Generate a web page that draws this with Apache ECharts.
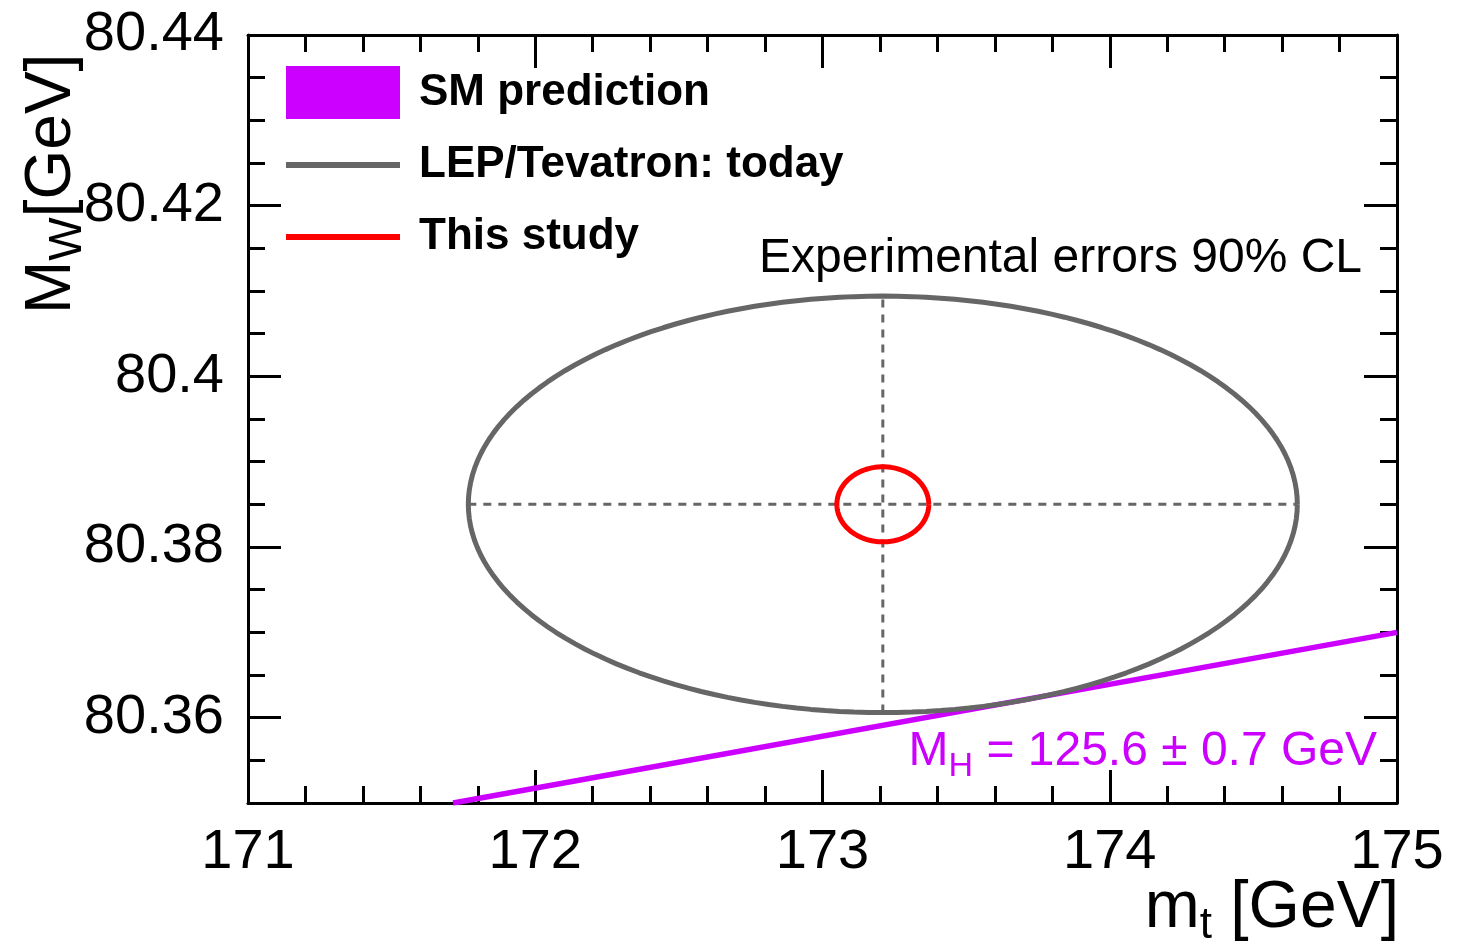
<!DOCTYPE html>
<html>
<head>
<meta charset="utf-8">
<script src="https://cdn.jsdelivr.net/npm/echarts@6/dist/echarts.min.js"></script>
<style>
  html, body { margin: 0; padding: 0; background: #fff; }
  #chart { width: 1472px; height: 952px; }
</style>
</head>
<body>
<div id="chart"></div>
<script>
// axis ranges and tick values
const xRange = [171, 175];
const yRange = [80.35, 80.44];
const yMajorTicks = [80.36, 80.38, 80.40, 80.42, 80.44];
const yMinorTicks = [80.355, 80.36, 80.365, 80.37, 80.375, 80.38, 80.385, 80.39, 80.395,
  80.40, 80.405, 80.41, 80.415, 80.42, 80.425, 80.43, 80.435, 80.44];

// SM prediction band (M_H = 125.6 GeV), end points
const smLine = [[171.714, 80.35], [175.0, 80.370]];

// 90% CL error ellipses: centre and half widths (m_t, M_W)
const lepCenter = [173.21, 80.385];
const lepHalf = [1.443, 0.0244];
const studyCenter = [173.21, 80.385];
const studyHalf = [0.160, 0.0044];

const font = "'Liberation Sans', Arial, Helvetica, sans-serif";
const gray = '#666666';
const magenta = '#cc00ff';

// legend line icon: thick bar in the middle of a 114x53 box
const lineIcon = 'path://M0,0L114,0L114,0Z M0,24L114,24L114,30L0,30Z M0,53L114,53L114,53Z';

function ellipse(c, h) {
  const pts = [];
  const n = 180;
  for (let i = 0; i <= n; i++) {
    const t = (i / n) * 2 * Math.PI;
    pts.push([c[0] + h[0] * Math.cos(t), c[1] + h[1] * Math.sin(t)]);
  }
  return pts;
}

const chart = echarts.init(document.getElementById('chart'));

const xBase = {
  type: 'value',
  min: xRange[0],
  max: xRange[1],
  interval: 1,
  splitLine: { show: false },
  axisLine: { show: true, onZero: false, lineStyle: { color: '#000', width: 3 } },
  axisTick: { show: true, inside: true, length: 33, lineStyle: { color: '#000', width: 3 } },
  minorTick: { show: true, splitNumber: 5, length: 17, lineStyle: { color: '#000', width: 3 } },
};

const yBase = {
  type: 'value',
  min: yRange[0],
  max: yRange[1],
  splitLine: { show: false },
  axisLine: { show: true, onZero: false, lineStyle: { color: '#000', width: 3 } },
  axisTick: { show: true, inside: true, length: 33, customValues: yMajorTicks,
    lineStyle: { color: '#000', width: 3 } },
  axisLabel: { show: false },
};

const yMinor = {
  type: 'value',
  min: yRange[0],
  max: yRange[1],
  splitLine: { show: false },
  axisLine: { show: false },
  axisTick: { show: true, inside: true, length: 17, customValues: yMinorTicks,
    lineStyle: { color: '#000', width: 3 } },
  axisLabel: { show: false },
};

const option = {
  animation: false,
  backgroundColor: '#fff',
  grid: { left: 248, right: 75, top: 35, bottom: 149, containLabel: false },
  xAxis: [
    Object.assign({}, xBase, {
      position: 'bottom',
      axisLabel: { show: true, fontSize: 56, color: '#000', fontFamily: font, margin: 22 },
    }),
    Object.assign({}, xBase, { position: 'top', axisLabel: { show: false } }),
  ],
  yAxis: [
    Object.assign({}, yBase, {
      position: 'left',
      axisLabel: { show: true, fontSize: 56, color: '#000', fontFamily: font, margin: 24,
        customValues: yMajorTicks },
    }),
    Object.assign({}, yBase, { position: 'right' }),
    Object.assign({}, yMinor, { position: 'left' }),
    Object.assign({}, yMinor, { position: 'right' }),
  ],
  legend: {
    orient: 'vertical',
    left: 286,
    top: 66,
    padding: 0,
    itemWidth: 114,
    itemHeight: 53,
    itemGap: 19,
    textStyle: { fontSize: 44, fontWeight: 'bold', color: '#000', fontFamily: font,
      padding: [0, 0, 0, 14] },
    data: [
      { name: 'SM prediction', icon: 'rect' },
      { name: 'LEP/Tevatron: today', icon: lineIcon },
      { name: 'This study', icon: lineIcon },
    ],
  },
  series: [
    {
      name: 'SM prediction',
      type: 'line',
      data: smLine,
      symbol: 'none',
      color: magenta,
      lineStyle: { color: magenta, width: 5.5 },
      z: 3,
    },
    {
      name: 'crossH',
      type: 'line',
      data: [[lepCenter[0] - lepHalf[0], lepCenter[1]], [lepCenter[0] + lepHalf[0], lepCenter[1]]],
      symbol: 'none',
      lineStyle: { color: gray, width: 3, type: [8, 7] },
      z: 2,
    },
    {
      name: 'crossV',
      type: 'line',
      data: [[lepCenter[0], lepCenter[1] - lepHalf[1]], [lepCenter[0], lepCenter[1] + lepHalf[1]]],
      symbol: 'none',
      lineStyle: { color: gray, width: 3, type: [8, 7] },
      z: 2,
    },
    {
      name: 'LEP/Tevatron: today',
      type: 'line',
      data: ellipse(lepCenter, lepHalf),
      symbol: 'none',
      color: gray,
      lineStyle: { color: gray, width: 5 },
      z: 4,
    },
    {
      name: 'This study',
      type: 'line',
      data: ellipse(studyCenter, studyHalf),
      symbol: 'none',
      color: '#ff0000',
      lineStyle: { color: '#ff0000', width: 5 },
      z: 5,
    },
  ],
  graphic: [
    {
      type: 'text',
      right: 1472 - 1362,
      top: 235,
      style: { text: 'Experimental errors 90% CL', fontSize: 48, fontFamily: font, fill: '#000' },
    },
    {
      type: 'text',
      right: 1472 - 1377,
      top: 728,
      style: {
        text: '{a|M}{b|H}{a| = 125.6 ± 0.7 GeV}',
        fontFamily: font,
        fill: magenta,
        rich: {
          a: { fontSize: 48, fill: magenta, fontFamily: font, lineHeight: 64 },
          b: { fontSize: 34, fill: magenta, fontFamily: font, verticalAlign: 'bottom' },
        },
      },
    },
    {
      type: 'text',
      right: 1472 - 1399,
      top: 876,
      style: {
        text: '{a|m}{b|t}{a| [GeV]}',
        fontFamily: font,
        fill: '#000',
        rich: {
          a: { fontSize: 66, fill: '#000', fontFamily: font, lineHeight: 78 },
          b: { fontSize: 44, fill: '#000', fontFamily: font, verticalAlign: 'bottom' },
        },
      },
    },
    {
      type: 'text',
      x: 52,
      y: 314,
      rotation: Math.PI / 2,
      style: {
        text: '{a|M}{b|W}{a|[GeV]}',
        align: 'left',
        verticalAlign: 'middle',
        fontFamily: font,
        fill: '#000',
        rich: {
          a: { fontSize: 64, fill: '#000', fontFamily: font, lineHeight: 78 },
          b: { fontSize: 46, fill: '#000', fontFamily: font, verticalAlign: 'bottom' },
        },
      },
    },
  ],
};

chart.setOption(option);
</script>
</body>
</html>
